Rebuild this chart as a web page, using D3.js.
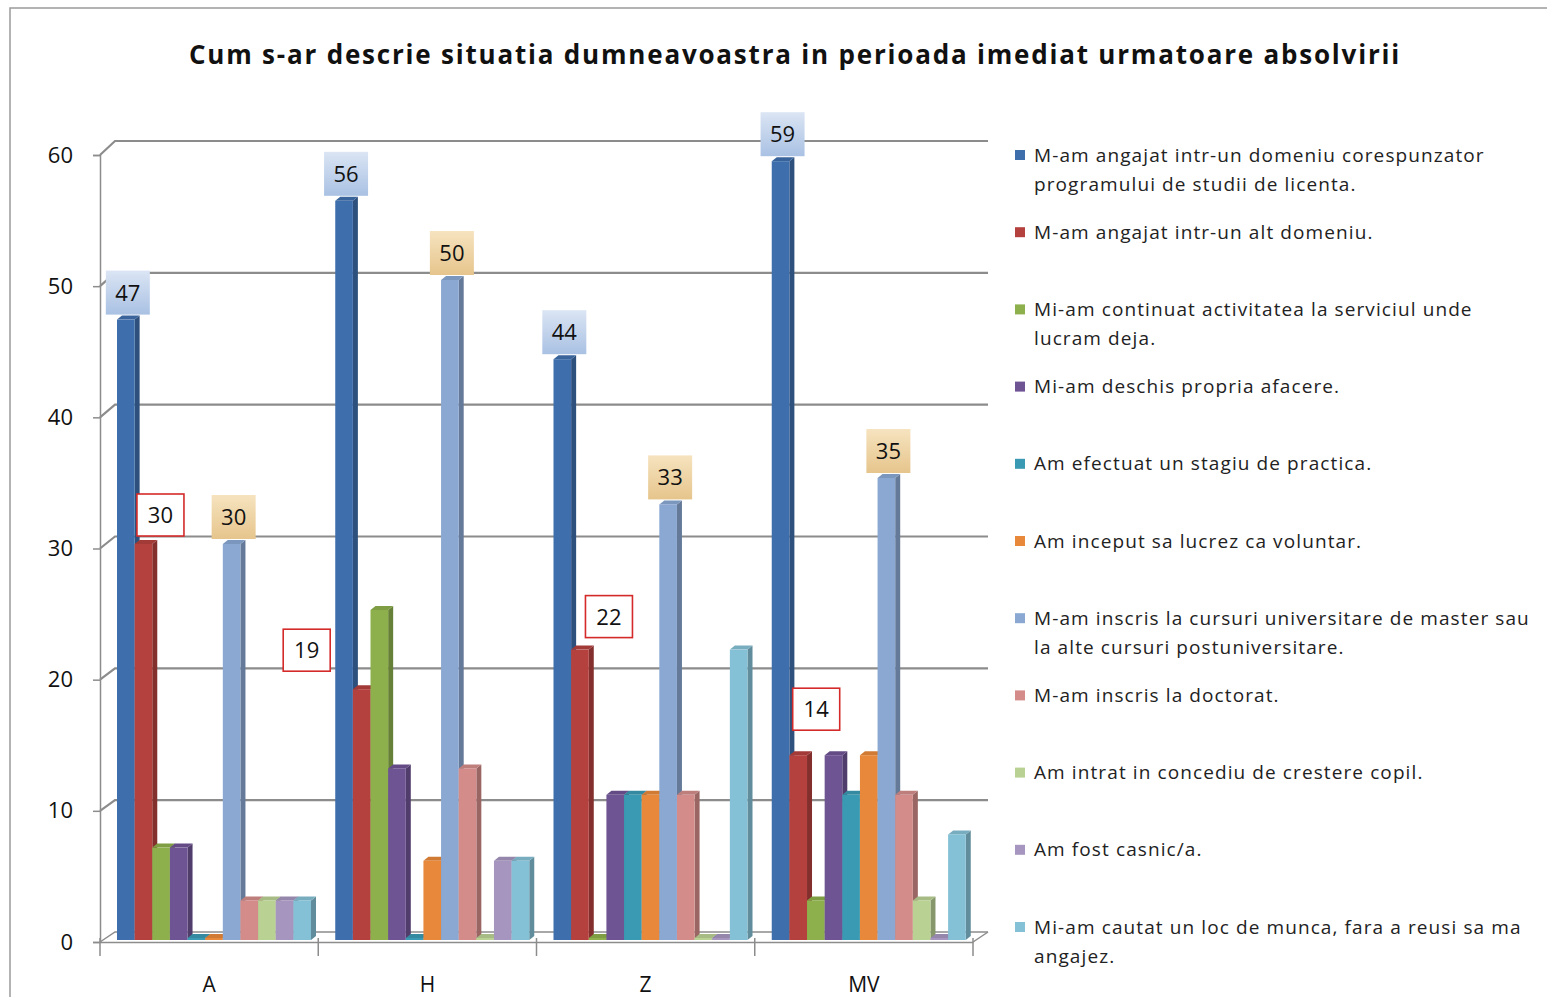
<!DOCTYPE html>
<html>
<head>
<meta charset="utf-8">
<script src="https://cdn.jsdelivr.net/npm/d3@7"></script>
<style>
    body { margin: 0; background: #fff; }
    svg { font-family: "Open Sans", sans-serif; }
</style>
</head>
<body>
<div id="chart"></div>
<script>
var categories = ["A", "H", "Z", "MV"];

var seriesNames = [
    ["M-am angajat intr-un domeniu corespunzator", "programului de studii de licenta."],
    ["M-am angajat intr-un alt domeniu."],
    ["Mi-am continuat activitatea la serviciul unde", "lucram deja."],
    ["Mi-am deschis propria afacere."],
    ["Am efectuat un stagiu de practica."],
    ["Am inceput sa lucrez ca voluntar."],
    ["M-am inscris la cursuri universitare de master sau", "la alte cursuri postuniversitare."],
    ["M-am inscris la doctorat."],
    ["Am intrat in concediu de crestere copil."],
    ["Am fost casnic/a."],
    ["Mi-am cautat un loc de munca, fara a reusi sa ma", "angajez."]
];

var seriesColors = ["#3E6EAC", "#B4413E", "#8DB04C", "#6F5494", "#3A9AB3", "#E8883A",
    "#8AA8D2", "#D38C8A", "#B9D193", "#A696BF", "#85C1D6"];

// values per category, one per series
var valuesA  = [47, 30, 7, 7, 0, 0, 30, 3, 3, 3, 3];
var valuesH  = [56, 19, 25, 13, 0, 6, 50, 13, 0, 6, 6];
var valuesZ  = [44, 22, 0, 11, 11, 11, 33, 11, 0, 0, 22];
var valuesMV = [59, 14, 3, 14, 11, 14, 35, 11, 3, 0, 8];
var allValues = [valuesA, valuesH, valuesZ, valuesMV];

var yTicks = [0, 10, 20, 30, 40, 50, 60];

// which series get a data label, and how it is boxed
var labelSeries = [0, 1, 6];
var labelStyle = {0: "blue", 1: "red", 6: "tan"};
// hand-placed offsets of the red labels (as in the original)
var redLabelOffsets = [[15, -29], [-57, -39], [27, -33], [16, -46]];

var width = 1547, height = 997;
var svg = d3.select("#chart").append("svg")
    .attr("width", width)
    .attr("height", height);

var defs = svg.append("defs");
function grad(id, c1, c2) {
    var g = defs.append("linearGradient").attr("id", id)
        .attr("x1", 0).attr("y1", 0).attr("x2", 0).attr("y2", 1);
    g.append("stop").attr("offset", "0%").attr("stop-color", c1);
    g.append("stop").attr("offset", "100%").attr("stop-color", c2);
}
grad("blueBox", "#dbe5f4", "#a9c1e3");
grad("tanBox", "#f6e3bf", "#e6c58c");

// outer frame
svg.append("rect")
    .attr("x", 10).attr("y", 8)
    .attr("width", width).attr("height", height)
    .attr("fill", "none")
    .attr("stroke", "#9a9a9a")
    .attr("stroke-width", 1.5);

// title
svg.append("text")
    .attr("x", 795).attr("y", 64)
    .attr("text-anchor", "middle")
    .attr("font-size", 26)
    .attr("font-weight", "bold")
    .attr("letter-spacing", 1.8)
    .attr("fill", "#111")
    .text("Cum s-ar descrie situatia dumneavoastra in perioada imediat urmatoare absolvirii");

// scales: front (axis), back wall, and bars
var depthX = 15;
var yFront = d3.scaleLinear().domain([0, 60]).range([942, 155]);
var yBack = d3.scaleLinear().domain([0, 60]).range([932, 141]);
var yBar = d3.scaleLinear().domain([0, 60]).range([940, 148]);

var x0 = d3.scaleBand().domain(categories).range([100, 973]);
var x1 = d3.scaleBand().domain(d3.range(seriesNames.length)).range([17, 17 + 194]);

var grid = svg.append("g").attr("class", "grid");
// back wall gridlines with the slanted joins to the axis
yTicks.forEach(function (t) {
    grid.append("path")
        .attr("d", "M" + 100 + "," + yFront(t) + "L" + (100 + depthX) + "," + yBack(t) + "H988")
        .attr("fill", "none")
        .attr("stroke", "#8c8c8c")
        .attr("stroke-width", t === 0 ? 1.5 : 2.2);
});
// floor right edge
grid.append("line")
    .attr("x1", 973).attr("y1", yFront(0))
    .attr("x2", 988).attr("y2", yBack(0))
    .attr("stroke", "#8c8c8c").attr("stroke-width", 1.5);

// value axis
var yAxis = svg.append("g")
    .attr("transform", "translate(100,0)")
    .call(d3.axisLeft(yFront).tickValues(yTicks).tickSize(7).tickPadding(20));
yAxis.select(".domain").attr("stroke", "#8c8c8c").attr("stroke-width", 1.5);
yAxis.selectAll(".tick line").attr("stroke", "#8c8c8c").attr("stroke-width", 1.5);
yAxis.selectAll(".tick text")
    .attr("font-size", 22)
    .attr("font-family", "Open Sans, sans-serif")
    .attr("fill", "#111");

// category axis
var xAxis = svg.append("g")
    .attr("transform", "translate(0," + yFront(0) + ")")
    .call(d3.axisBottom(x0).tickSize(0).tickPadding(35));
xAxis.select(".domain").attr("stroke", "#8c8c8c").attr("stroke-width", 1.5);
xAxis.selectAll(".tick text")
    .attr("font-size", 21)
    .attr("font-family", "Open Sans, sans-serif")
    .attr("fill", "#111");
xAxis.selectAll(".sep")
    .data(x0.domain().map(function (c) { return x0(c); }).concat([x0.range()[1]]))
    .enter().append("line")
    .attr("x1", function (d) { return d; }).attr("x2", function (d) { return d; })
    .attr("y1", -4).attr("y2", 14)
    .attr("stroke", "#8c8c8c").attr("stroke-width", 1.5);

// 3D-ish bars
var dX = 5, dY = -4;
var bars = svg.append("g").attr("class", "bars");
categories.forEach(function (cat, ci) {
    var vals = allValues[ci];
    var gx = x0(cat);
    vals.forEach(function (v, si) {
        var left = gx + x1(si), w = x1.bandwidth();
        var top = v === 0 ? yBar(0) - 2 : yBar(v), base = yBar(0);
        var col = d3.color(seriesColors[si]);
        var g = bars.append("g");
        // side face
        g.append("path")
            .attr("d", "M" + (left + w) + "," + base + "L" + (left + w) + "," + top +
                "L" + (left + w + dX) + "," + (top + dY) + "L" + (left + w + dX) + "," + (base + dY) + "Z")
            .attr("fill", col.darker(0.9));
        // top face
        g.append("path")
            .attr("d", "M" + left + "," + top + "L" + (left + dX) + "," + (top + dY) +
                "L" + (left + w + dX) + "," + (top + dY) + "L" + (left + w) + "," + top + "Z")
            .attr("fill", col.darker(0.3));
        // front face
        g.append("rect")
            .attr("x", left).attr("y", top)
            .attr("width", w).attr("height", base - top)
            .attr("fill", col);
    });
});

// data labels
var labels = svg.append("g").attr("class", "labels");
categories.forEach(function (cat, ci) {
    labelSeries.forEach(function (si) {
        var v = allValues[ci][si];
        var cx = x0(cat) + x1(si) + x1.bandwidth() / 2 + 2;
        var cy = yBar(v) - 27;
        if (si === 1) {
            cx += redLabelOffsets[ci][0];
            cy = yBar(v) + redLabelOffsets[ci][1];
        }
        var style = labelStyle[si];
        var bw = style === "red" ? 47 : 44, bh = style === "red" ? 42 : 44;
        labels.append("rect")
            .attr("x", cx - bw / 2).attr("y", cy - bh / 2)
            .attr("width", bw).attr("height", bh)
            .attr("fill", style === "red" ? "#fff" : (style === "blue" ? "url(#blueBox)" : "url(#tanBox)"))
            .attr("stroke", style === "red" ? "#d42a2a" : "none")
            .attr("stroke-width", 1.6);
        labels.append("text")
            .attr("x", cx).attr("y", cy)
            .attr("dy", "0.36em")
            .attr("text-anchor", "middle")
            .attr("font-size", 22)
            .attr("fill", "#111")
            .text(v);
    });
});

// legend
var legendY = d3.scalePoint().domain(d3.range(seriesNames.length)).range([155, 927]);
var legend = svg.append("g").attr("class", "legend");
seriesNames.forEach(function (lines, si) {
    var y = legendY(si);
    legend.append("rect")
        .attr("x", 1015).attr("y", y - 5)
        .attr("width", 10).attr("height", 10)
        .attr("fill", seriesColors[si]);
    lines.forEach(function (ln, li) {
        legend.append("text")
            .attr("x", 1034).attr("y", y + li * 29)
            .attr("dy", "0.35em")
            .attr("font-size", 19)
            .attr("letter-spacing", 1.1)
            .attr("fill", "#222")
            .text(ln);
    });
});
</script>
</body>
</html>
